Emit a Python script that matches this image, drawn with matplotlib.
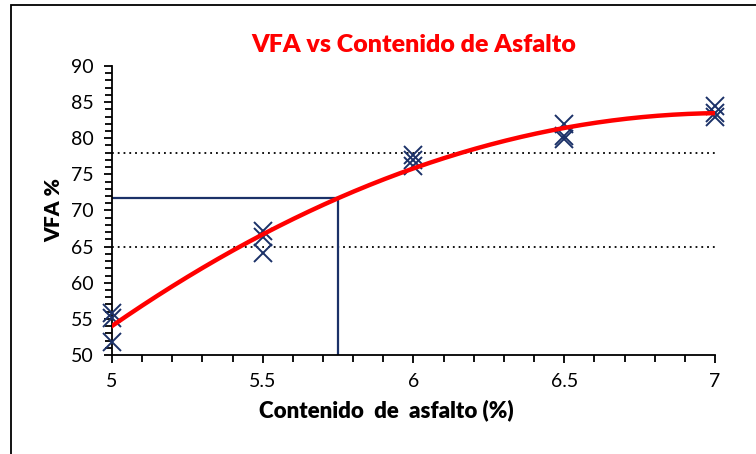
import numpy as np
import matplotlib.pyplot as plt
from matplotlib.patches import Rectangle
from matplotlib.ticker import MultipleLocator

plt.rcParams['font.family'] = ['Lato', 'DejaVu Sans']

# Contenido de asfalto (%) y VFA (%) de cada briqueta
asfalto = [5.0, 5.0, 5.0,
           5.5, 5.5, 5.5,
           6.0, 6.0, 6.0,
           6.5, 6.5, 6.5,
           7.0, 7.0, 7.0]
vfa = [55.8, 55.1, 51.8,
       67.1, 66.4, 64.1,
       77.7, 77.0, 76.2,
       82.0, 80.3, 79.9,
       84.4, 83.5, 83.0]

# limites de especificacion y contenido optimo
lim_inf = 65
lim_sup = 78
asfalto_optimo = 5.75

# tendencia polinomica de grado 2
coef = np.polyfit(asfalto, vfa, 2)
x_curva = np.linspace(5, 7, 200)
y_curva = np.polyval(coef, x_curva)
vfa_optimo = np.polyval(coef, asfalto_optimo)

fig = plt.figure(figsize=(7.56, 4.54), dpi=100)
ax = fig.add_axes([0.1481, 0.2181, 0.7977, 0.6365])

azul = '#1b3168'
ax.plot(asfalto, vfa, linestyle='none', marker='x', markersize=13,
        markeredgewidth=1.4, color=azul, zorder=3, clip_on=False)
ax.plot(x_curva, y_curva, color='#ff0000', linewidth=3.2, zorder=4)

ax.plot([5, 7], [lim_sup, lim_sup], linestyle=(0, (1, 2.2)), color='black', linewidth=1.3)
ax.plot([5, 7], [lim_inf, lim_inf], linestyle=(0, (1, 2.2)), color='black', linewidth=1.3)

ax.plot([5, asfalto_optimo], [vfa_optimo, vfa_optimo], color=azul, linewidth=1.6, zorder=2)
ax.plot([asfalto_optimo, asfalto_optimo], [50, vfa_optimo], color=azul, linewidth=1.6, zorder=2)

ax.set_xlim(5, 7)
ax.set_ylim(50, 90)
ax.xaxis.set_minor_locator(MultipleLocator(0.1))
ax.yaxis.set_major_locator(MultipleLocator(5))
ax.yaxis.set_minor_locator(MultipleLocator(1))
ax.set_xticks([5, 5.5, 6, 6.5, 7])
ax.set_xticklabels(['5', '5.5', '6', '6.5', '7'])
ax.tick_params(which='both', direction='out', width=1.3, labelsize=14, color='black')
ax.tick_params(which='major', length=6, pad=7)
ax.tick_params(which='minor', length=5)

for lado in ['top', 'right']:
    ax.spines[lado].set_visible(False)
for lado in ['left', 'bottom']:
    ax.spines[lado].set_linewidth(1.3)

ax.set_title('VFA vs Contenido de Asfalto', color='#ff0000', fontsize=18,
             fontweight='heavy', pad=10)
ax.set_xlabel('Contenido  de  asfalto (%)', fontsize=16, fontweight='heavy')
ax.xaxis.set_label_coords(0.455, -0.155)
ax.set_ylabel('VFA %', fontsize=15, fontweight='heavy', labelpad=6)

# marco del grafico
fig.patches.append(Rectangle((11 / 756, -0.1), 1.2, 1.1 - 5 / 454, transform=fig.transFigure,
                             fill=False, edgecolor='black', linewidth=1.3))

fig.savefig('out.png', dpi=100)
